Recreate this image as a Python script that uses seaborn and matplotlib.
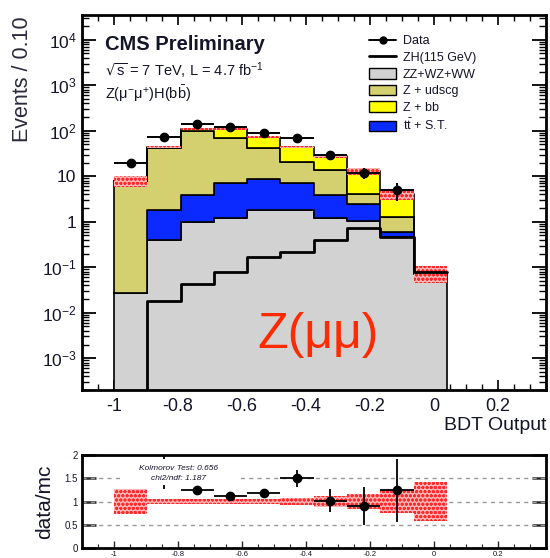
import numpy as np
import pandas as pd
import matplotlib
matplotlib.use("Agg")
import matplotlib.pyplot as plt
import seaborn as sns
from matplotlib.ticker import FixedLocator, MultipleLocator, LogLocator, NullFormatter
from matplotlib.lines import Line2D
from matplotlib.patches import Patch, Rectangle

# ---- binning of the BDT output ----
bin_edges = [-1.0, -0.896, -0.792, -0.688, -0.584, -0.48, -0.376, -0.272, -0.168, -0.064, 0.04]

# ---- background processes (events per bin) ----
processes = ["Z + bb", "Z + udscg", "tt + S.T.", "ZZ+WZ+WW"]
zz_vv   = [0.0275, 0.40, 1.0, 1.2, 1.8, 1.8, 1.2, 1.05, 0.47, 0.072]
ttbar   = [0.0, 1.4, 2.9, 6.0, 6.7, 5.2, 2.7, 1.4, 0.13, 0.002]
z_udscg = [7.7, 40.2, 96.1, 62.8, 32.5, 14.0, 10.1, 1.65, 0.69, 0.001]
z_bb    = [0.1, 2.0, 10.0, 38.0, 32.0, 23.0, 14.0, 8.9, 2.8, 0.0]

# ---- signal ZH(115 GeV) ----
zh_signal = [0.0, 0.018, 0.042, 0.08, 0.17, 0.22, 0.40, 0.72, 0.45, 0.078]

# ---- observed data (first nine bins) ----
data_counts = [20, 72, 140, 122, 88, 68, 29, 12, 5.0]
data_err    = [4.5, 8.5, 11.8, 11.0, 9.4, 8.2, 5.4, 3.5, 2.2]

# ---- relative MC statistical uncertainty ----
mc_rel_err = [0.27, 0.05, 0.05, 0.05, 0.05, 0.07, 0.12, 0.17, 0.25, 0.41]

# ---- data / MC ratio (bins 2..9) ----
ratio_vals = [1.62, 1.25, 1.11, 1.18, 1.50, 1.02, 0.91, 1.24]
ratio_err  = [0.35, 0.04, 0.05, 0.05, 0.18, 0.25, 0.41, 0.68]

y_ticks = [1e-3, 1e-2, 1e-1, 1, 10, 1e2, 1e3, 1e4]
y_tick_labels = ["10$^{-3}$", "10$^{-2}$", "10$^{-1}$", "1", "10", "10$^{2}$", "10$^{3}$", "10$^{4}$"]
x_ticks = [-1, -0.8, -0.6, -0.4, -0.2, 0, 0.2]
x_tick_labels = ["-1", "-0.8", "-0.6", "-0.4", "-0.2", "0", "0.2"]

colors = {"ZZ+WZ+WW": "#d2d2d2", "Z + udscg": "#d4d070", "Z + bb": "#ffff00", "tt + S.T.": "#0a2aff"}

sns.set_theme(style="ticks")
plt.rcParams["font.family"] = ["Liberation Sans", "DejaVu Sans"]
plt.rcParams["mathtext.default"] = "regular"
plt.rcParams["hatch.linewidth"] = 0.9

edges = np.array(bin_edges)
centers = 0.5 * (edges[:-1] + edges[1:])
bw = edges[1] - edges[0]
comp = {"ZZ+WZ+WW": zz_vv, "tt + S.T.": ttbar, "Z + udscg": z_udscg, "Z + bb": z_bb}
df = pd.DataFrame([{"x": float(c), "w": comp[p][i], "process": p}
                   for p in processes for i, c in enumerate(centers)])
total = np.array(zz_vv) + np.array(ttbar) + np.array(z_udscg) + np.array(z_bb)
sig_df = pd.DataFrame({"x": centers, "w": zh_signal})

fig = plt.figure(figsize=(5.5, 5.58), dpi=100)
ax = fig.add_axes([82 / 550, 1 - 390 / 558, 464 / 550, 375 / 558])
ax2 = fig.add_axes([82 / 550, 1 - 548 / 558, 464 / 550, 93 / 558])

tick_color = "#15152a"

# ---- main panel: stacked backgrounds ----
sns.histplot(data=df, x="x", weights="w", hue="process", hue_order=processes,
             bins=list(bin_edges), multiple="stack", element="step", palette=colors,
             edgecolor="black", linewidth=1.2, alpha=1, legend=False, ax=ax)
ax.set_yscale("log")

# MC uncertainty band on top of the stack
ax.bar(centers, 2 * total * np.array(mc_rel_err), bottom=total * (1 - np.array(mc_rel_err)),
       width=bw, facecolor="#ffb8b8", edgecolor="#ff2a2a", hatch="oooo", linewidth=0, zorder=3)

# signal
sns.histplot(data=sig_df, x="x", weights="w", bins=list(bin_edges), element="step", fill=False,
             color="black", linewidth=2.0, ax=ax, zorder=4)

# data
ax.errorbar(centers[:len(data_counts)], data_counts, xerr=bw / 2, yerr=data_err,
            fmt="o", color="black", ms=6, elinewidth=1.4, capsize=0, zorder=5)

ax.set_xlim(-1.1, 0.35)
ax.set_ylim(2.0e-4, 3.5e4)
ax.yaxis.set_major_locator(FixedLocator(y_ticks))
ax.set_yticklabels(y_tick_labels)
ax.yaxis.set_minor_locator(LogLocator(base=10, subs=np.arange(2, 10), numticks=20))
ax.yaxis.set_minor_formatter(NullFormatter())
ax.xaxis.set_major_locator(FixedLocator(x_ticks))
ax.set_xticklabels(x_tick_labels)
ax.xaxis.set_minor_locator(MultipleLocator(0.05))
ax.tick_params(axis="both", which="both", direction="in", top=True, right=True,
               colors="black", labelcolor=tick_color)
ax.tick_params(axis="y", which="major", length=10, width=1.3, labelsize=12.5, pad=4)
ax.tick_params(axis="y", which="minor", length=5, width=1.0)
ax.tick_params(axis="x", which="major", length=7, width=1.2, labelsize=13, pad=6)
ax.tick_params(axis="x", which="minor", length=4, width=1.0)
for s in ax.spines.values():
    s.set_linewidth(2.0)
    s.set_color("black")

ax.set_xlabel("BDT Output", fontsize=14, color=tick_color, loc="right", labelpad=1)
ax.set_ylabel("Events / 0.10", fontsize=15.5, color="#2a2a3a", loc="top")
ax.yaxis.set_label_coords(-0.105, 0.995)

ax.text(0.05, 0.92, "CMS Preliminary", transform=ax.transAxes, fontsize=14.5,
        fontweight="bold", color=tick_color, va="center")
ax.text(0.05, 0.85, "$\\sqrt{s}$ = 7 TeV, L = 4.7 fb$^{-1}$", transform=ax.transAxes,
        fontsize=10.5, color=tick_color, va="center")
ax.text(0.05, 0.79, "Z($\\mu^{-}\\mu^{+}$)H(b$\\bar{b}$)", transform=ax.transAxes,
        fontsize=10.5, color=tick_color, va="center")
ax.text(-0.3625, 3.2e-3, "Z(μμ)", fontsize=36, color="#ff2a00", va="center", ha="center", zorder=6)

handles = [
    Line2D([], [], color="black", marker="o", ms=5, lw=1.4),
    Line2D([], [], color="black", lw=2.0),
    Patch(facecolor=colors["ZZ+WZ+WW"], edgecolor="black", linewidth=1.0),
    Patch(facecolor=colors["Z + udscg"], edgecolor="black", linewidth=1.0),
    Patch(facecolor=colors["Z + bb"], edgecolor="black", linewidth=1.0),
    Patch(facecolor=colors["tt + S.T."], edgecolor="black", linewidth=1.0),
]
labels = ["Data", "ZH(115 GeV)", "ZZ+WZ+WW", "Z + udscg", "Z + bb", "t$\\bar{t}$ + S.T."]
leg = ax.legend(handles, labels, loc="upper left", bbox_to_anchor=(0.618, 0.947),
                frameon=False, fontsize=9, handlelength=2.2, handleheight=0.9,
                handletextpad=0.5, labelspacing=0.33, borderpad=0, borderaxespad=0)
for t in leg.get_texts():
    t.set_color(tick_color)

# ---- ratio panel ----
for yv in (0.5, 1.0, 1.5):
    ax2.axhline(yv, color="#9a9a9a", lw=1.0, ls=(0, (3, 3)), zorder=1)
ax2.bar(centers, 2 * np.array(mc_rel_err), bottom=1 - np.array(mc_rel_err), width=bw,
        facecolor="#ffb8b8", edgecolor="#ff2a2a", hatch="oooo", linewidth=0, zorder=2)
ax2.errorbar(centers[1:1 + len(ratio_vals)], ratio_vals, xerr=bw / 2, yerr=ratio_err,
             fmt="o", color="black", ms=6, elinewidth=1.3, capsize=0, zorder=4)
ax2.add_patch(Rectangle((-0.98, 1.36), 0.375, 0.56, facecolor="white", edgecolor="none", zorder=5))
ax2.text(-0.80, 1.72, "Kolmorov Test: 0.656", fontsize=6, style="italic",
         color=tick_color, ha="center", va="center", zorder=6)
ax2.text(-0.80, 1.50, "chi2/ndf: 1.187", fontsize=6, style="italic",
         color=tick_color, ha="center", va="center", zorder=6)

ax2.set_xlim(-1.1, 0.35)
ax2.set_ylim(0, 2)
ax2.yaxis.set_major_locator(FixedLocator([0, 0.5, 1, 1.5, 2]))
ax2.set_yticklabels(["0", "0.5", "1", "1.5", "2"])
ax2.xaxis.set_major_locator(FixedLocator(x_ticks))
ax2.set_xticklabels(x_tick_labels)
ax2.xaxis.set_minor_locator(MultipleLocator(0.05))
ax2.tick_params(axis="both", which="both", direction="in", right=True, top=False,
                labelcolor=tick_color)
ax2.tick_params(axis="y", which="major", length=10, width=1.8, labelsize=7, pad=3)
ax2.tick_params(axis="x", which="major", length=5, width=1.0, labelsize=5.5, pad=2)
ax2.tick_params(axis="x", which="minor", length=3, width=0.8)
for s in ax2.spines.values():
    s.set_linewidth(2.0)
    s.set_color("black")
ax2.set_xlabel("")
ax2.set_ylabel("data/mc", fontsize=15, color=tick_color)
ax2.yaxis.set_label_coords(-0.06, 0.5)

fig.savefig("out.png", dpi=100)
